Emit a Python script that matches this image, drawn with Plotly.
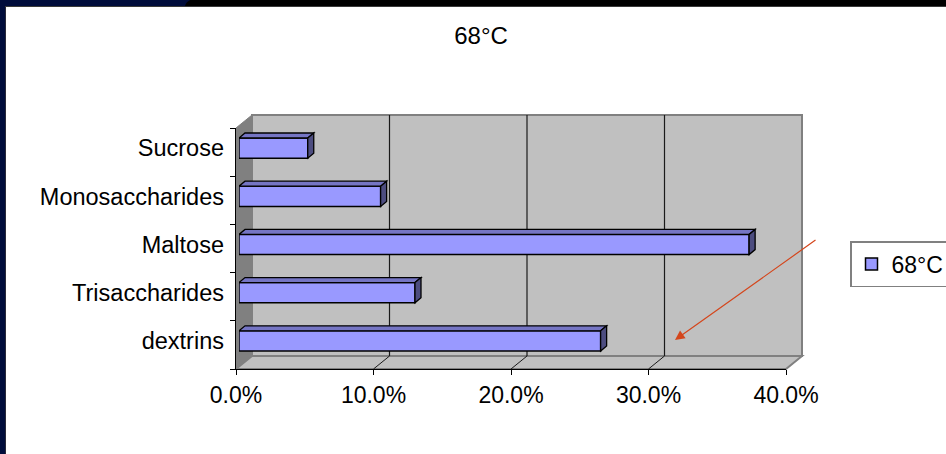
import plotly.graph_objects as go

# ---- data -------------------------------------------------------------
categories = ["dextrins", "Trisaccharides", "Maltose", "Monosaccharides", "Sucrose"]
share_68c = [0.263, 0.128, 0.371, 0.103, 0.050]
x_ticks = [0.0, 0.1, 0.2, 0.3, 0.4]
series_name = "68°C"

# ---- geometry (pixels) ------------------------------------------------
W, H = 946, 454
FONT = "Liberation Sans, Arial, sans-serif"

FX0, FX1, FY0, FY1 = 236, 786, 128, 369   # front plane of the 3-D box
DX, DY = 16, -13                            # depth offset to the back wall
BX, BY = 3, -4                              # bars sit slightly behind the front
XMAX = x_ticks[-1]


def px(x):
    return x / W


def py(y):
    return 1 - y / H


def front_x(v):
    return FX0 + v / XMAX * (FX1 - FX0)


WALL = "#C0C0C0"
SIDE = "#808080"
EDGE = "#808080"

shapes = []

# left side wall
shapes.append(dict(
    type="path", xref="paper", yref="paper", layer="below",
    path=(f"M{px(FX0)},{py(FY0)} L{px(FX0 + DX)},{py(FY0 + DY)} "
          f"L{px(FX0 + DX)},{py(FY1 + DY)} L{px(FX0)},{py(FY1)} Z"),
    fillcolor=SIDE, line=dict(color=EDGE, width=1)))
# back wall
shapes.append(dict(
    type="rect", xref="paper", yref="paper", layer="below",
    x0=px(FX0 + DX), x1=px(FX1 + DX), y0=py(FY1 + DY), y1=py(FY0 + DY),
    fillcolor=WALL, line=dict(color=EDGE, width=2)))
# floor
shapes.append(dict(
    type="path", xref="paper", yref="paper", layer="below",
    path=(f"M{px(FX0)},{py(FY1)} L{px(FX0 + DX)},{py(FY1 + DY)} "
          f"L{px(FX1 + DX)},{py(FY1 + DY)} L{px(FX1)},{py(FY1)} Z"),
    fillcolor=WALL, line=dict(color=EDGE, width=2)))
# gridlines on the back wall and their continuation across the floor
for t in x_ticks[1:-1]:
    xf = front_x(t)
    shapes.append(dict(
        type="line", xref="paper", yref="paper", layer="below",
        x0=px(xf + DX), x1=px(xf + DX), y0=py(FY0 + DY), y1=py(FY1 + DY),
        line=dict(color="#1a1a1a", width=1.2)))
    shapes.append(dict(
        type="line", xref="paper", yref="paper", layer="below",
        x0=px(xf), x1=px(xf + DX), y0=py(FY1), y1=py(FY1 + DY),
        line=dict(color="#1a1a1a", width=1)))

# top and right faces of each bar
BAR_W = 0.42
ddx = 6 * XMAX / (FX1 - FX0)
ddy = 5 / ((FY1 - FY0) / len(categories))
for i, v in enumerate(share_68c):
    y0, y1 = i - BAR_W / 2, i + BAR_W / 2
    shapes.append(dict(
        type="path", xref="x", yref="y", layer="above",
        path=f"M0,{y1} L{v},{y1} L{v + ddx},{y1 + ddy} L{ddx},{y1 + ddy} Z",
        fillcolor="#7575C4", line=dict(color="black", width=1.3)))
    shapes.append(dict(
        type="path", xref="x", yref="y", layer="above",
        path=f"M{v},{y0} L{v},{y1} L{v + ddx},{y1 + ddy} L{v + ddx},{y0 + ddy} Z",
        fillcolor="#4D4D80", line=dict(color="black", width=1.3)))

# window frame along the top and left edges
NAVY = "#000C3B"
shapes.append(dict(type="rect", xref="paper", yref="paper", layer="above",
                   x0=0, x1=1, y0=py(6), y1=1, fillcolor="black", line=dict(width=0)))
shapes.append(dict(type="path", xref="paper", yref="paper", layer="above",
                   path=f"M0,1 L{px(190)},1 Q{px(186)},{py(2)} {px(185)},{py(6)} L0,{py(6)} Z",
                   fillcolor=NAVY, line=dict(width=0)))
shapes.append(dict(type="rect", xref="paper", yref="paper", layer="above",
                   x0=0, x1=px(5), y0=0, y1=1, fillcolor=NAVY, line=dict(width=0)))
shapes.append(dict(type="line", xref="paper", yref="paper", layer="above",
                   x0=px(5.5), x1=px(5.5), y0=0, y1=py(6), line=dict(color="#2a2a3a", width=1)))
shapes.append(dict(type="line", xref="paper", yref="paper", layer="above",
                   x0=px(5), x1=1, y0=py(6.5), y1=py(6.5), line=dict(color="#3a3a3a", width=1)))

fig = go.Figure()

fig.add_trace(go.Bar(
    x=share_68c, y=list(range(len(categories))), orientation="h",
    width=BAR_W, name=series_name, xaxis="x", yaxis="y",
    marker=dict(color="#9999FF", line=dict(color="black", width=1.5)),
    hoverinfo="skip"))

# carrier for the front axes (tick marks and percentage labels)
fig.add_trace(go.Scatter(x=[], y=[], xaxis="x2", yaxis="y2",
                         showlegend=False, hoverinfo="skip"))

fig.update_layout(
    width=W, height=H,
    margin=dict(l=0, r=0, t=0, b=0, autoexpand=False),
    paper_bgcolor="white", plot_bgcolor="rgba(0,0,0,0)",
    font=dict(family=FONT, color="black"),
    showlegend=True,
    title=dict(text="68°C", x=px(481), y=py(36), xanchor="center", yanchor="middle",
               font=dict(family=FONT, size=24, color="black")),
    xaxis=dict(domain=[px(FX0 + BX), px(FX1 + BX)], range=[0, XMAX], anchor="y",
               visible=False, fixedrange=True, automargin=False),
    yaxis=dict(domain=[py(FY1 + BY), py(FY0 + BY)], range=[-0.5, len(categories) - 0.5],
               anchor="x", tickmode="array", tickvals=list(range(len(categories))),
               ticktext=categories, ticks="", showline=False, showgrid=False,
               zeroline=False, ticklabelstandoff=14, automargin=False,
               tickfont=dict(family=FONT, size=23.5, color="black"), fixedrange=True),
    xaxis2=dict(domain=[px(FX0), px(FX1)], range=[0, XMAX], anchor="y2",
                tickmode="array", tickvals=x_ticks, tickformat=".1%",
                ticks="outside", ticklen=5, tickcolor="black", tickwidth=1,
                showline=True, linecolor="black", linewidth=1,
                showgrid=False, zeroline=False, automargin=False,
                tickfont=dict(family=FONT, size=23, color="black"), fixedrange=True),
    yaxis2=dict(domain=[py(FY1), py(FY0)], range=[-0.5, len(categories) - 0.5],
                anchor="x2", tickmode="array",
                tickvals=[k - 0.5 for k in range(len(categories) + 1)],
                ticks="outside", ticklen=5, tickcolor="black", tickwidth=1,
                showticklabels=False, showline=True, linecolor="black", linewidth=1,
                showgrid=False, zeroline=False, fixedrange=True, automargin=False),
    legend=dict(x=px(850), y=py(241), xanchor="left", yanchor="top",
                bgcolor="white", bordercolor="#808080", borderwidth=1.5,
                font=dict(family=FONT, size=23, color="black")),
    shapes=shapes,
    annotations=[dict(
        xref="paper", yref="paper", x=px(675), y=py(340), ax=142, ay=-101,
        text="", showarrow=True, arrowhead=2, arrowsize=1.6, arrowwidth=1.2,
        arrowcolor="#D4461C")],
)

fig.write_html("out.html")
